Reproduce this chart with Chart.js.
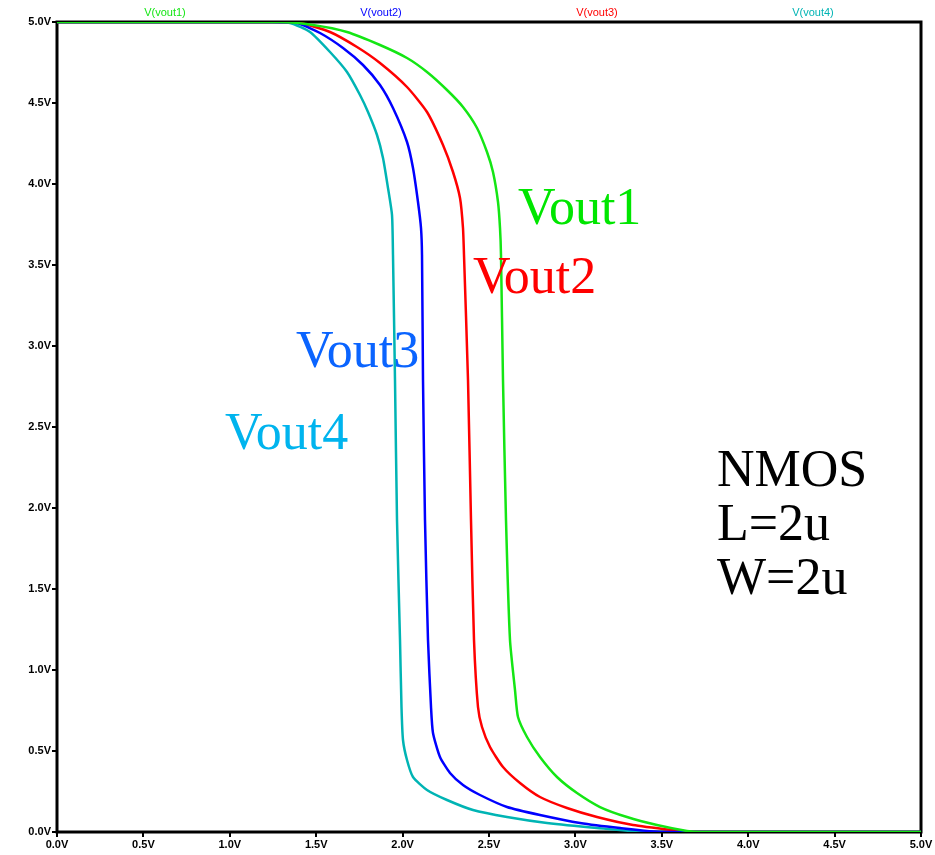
<!DOCTYPE html>
<html>
<head>
<meta charset="utf-8">
<script src="https://cdn.jsdelivr.net/npm/chart.js@4/dist/chart.umd.min.js"></script>
<style>
html,body{margin:0;padding:0;background:#fff;}
#wrap{width:935px;height:855px;position:relative;}
</style>
</head>
<body>
<div id="wrap"><canvas id="c" width="935" height="855"></canvas></div>
<script>
// Input voltage sweep (V) and output voltages (V)
const vout1X = [0, 1.2905, 1.4815, 1.6782, 1.8692, 2.0255, 2.1412, 2.2569, 2.3495, 2.4306, 2.4884, 2.5231, 2.5521, 2.5637, 2.5694, 2.5810, 2.5984, 2.6215, 2.6505, 2.6678, 2.7199, 2.7951, 2.8935, 3.0093, 3.1424, 3.2986, 3.4722, 3.6458, 3.7211, 5.0];
const vout1Y = [5, 5, 4.9815, 4.9383, 4.858, 4.7778, 4.6914, 4.5802, 4.4753, 4.3457, 4.1975, 4.0741, 3.8889, 3.7284, 3.5617, 2.7901, 1.9259, 1.1852, 0.8765, 0.7099, 0.5864, 0.4630, 0.3395, 0.2407, 0.1543, 0.0926, 0.0432, 0.0062, 0, 0];

const vout2X = [0, 1.2442, 1.3889, 1.5220, 1.6551, 1.7708, 1.8692, 1.9444, 2.0255, 2.0602, 2.0891, 2.1065, 2.1123, 2.1181, 2.1296, 2.1470, 2.1644, 2.1759, 2.2164, 2.2743, 2.3495, 2.4479, 2.6042, 2.7951, 3.0266, 3.2581, 3.5069, 5.0];
const vout2Y = [5, 5, 4.9938, 4.9321, 4.8395, 4.7346, 4.6111, 4.4691, 4.2593, 4.0988, 3.8889, 3.7284, 3.5617, 2.7901, 1.9259, 1.1852, 0.7716, 0.6111, 0.4630, 0.3642, 0.2901, 0.2284, 0.1543, 0.1049, 0.0556, 0.0247, 0, 0];

const vout3X = [0, 1.2616, 1.4063, 1.5799, 1.7361, 1.8692, 2.0255, 2.1412, 2.2338, 2.2917, 2.3322, 2.3495, 2.3553, 2.3785, 2.3958, 2.4132, 2.4363, 2.4595, 2.5058, 2.5810, 2.6794, 2.7951, 2.9514, 3.1250, 3.3333, 3.6053, 3.6632, 5.0];
const vout3Y = [5, 5, 4.9938, 4.9383, 4.8457, 4.7469, 4.5988, 4.4444, 4.2407, 4.0741, 3.9136, 3.7284, 3.5617, 2.7901, 1.9259, 1.1852, 0.7716, 0.6481, 0.5247, 0.4012, 0.3025, 0.2160, 0.1481, 0.0926, 0.0432, 0.0062, 0, 0];

const vout4X = [0, 1.2211, 1.3484, 1.4641, 1.5799, 1.6782, 1.7535, 1.7998, 1.8519, 1.8866, 1.9155, 1.9387, 1.9444, 1.9560, 1.9676, 1.9850, 1.9936, 2.0023, 2.0255, 2.0602, 2.1412, 2.2569, 2.4074, 2.6042, 2.8356, 3.1250, 3.4144, 5.0];
const vout4Y = [5, 5, 4.9938, 4.9383, 4.8148, 4.6914, 4.5494, 4.4444, 4.3025, 4.1605, 3.9753, 3.8086, 3.5617, 2.7901, 1.9259, 1.1852, 0.7716, 0.5679, 0.4444, 0.3395, 0.2593, 0.1975, 0.1358, 0.0926, 0.0556, 0.0247, 0, 0];

const seriesNames = ['V(vout1)', 'V(vout2)', 'V(vout3)', 'V(vout4)'];
const seriesColors = ['#14e614', '#0000ff', '#ff0000', '#00b4b4'];
const xTickLabels = ['0.0V','0.5V','1.0V','1.5V','2.0V','2.5V','3.0V','3.5V','4.0V','4.5V','5.0V'];
const yTickLabels = ['0.0V','0.5V','1.0V','1.5V','2.0V','2.5V','3.0V','3.5V','4.0V','4.5V','5.0V'];

const annotationTexts = ['Vout1', 'Vout2', 'Vout3', 'Vout4'];
const annotationColors = ['#00e600', '#ff0000', '#0a64ff', '#00b4ee'];
const annotationX = [2.668, 2.407, 1.383, 0.972];
const annotationY = [3.753, 3.327, 2.870, 2.364];
const noteLines = ['NMOS', 'L=2u', 'W=2u'];

function pts(xs, ys){ return xs.map((x,i)=>({x:x, y:ys[i]})); }
const allX = [vout1X, vout2X, vout3X, vout4X];
const allY = [vout1Y, vout2Y, vout3Y, vout4Y];

const tickFont = {family: '"Liberation Sans Narrow", "Liberation Sans", Arial, sans-serif', size: 11, weight: 'bold'};

const framePlugin = {
  id: 'frame',
  beforeDatasetsDraw(chart){
    const {ctx, chartArea: a} = chart;
    ctx.save();
    ctx.strokeStyle = '#000';
    ctx.lineWidth = 3;
    ctx.strokeRect(a.left, a.top, a.right - a.left, a.bottom - a.top);
    ctx.restore();
  },
  afterDatasetsDraw(chart){
    const {ctx, chartArea: a, scales} = chart;
    ctx.save();
    ctx.font = '11px "Liberation Sans Narrow", "Liberation Sans", Arial, sans-serif';
    ctx.textAlign = 'center';
    ctx.textBaseline = 'alphabetic';
    const w = a.right - a.left;
    seriesNames.forEach((n,i)=>{
      ctx.fillStyle = seriesColors[i];
      ctx.fillText(n, a.left + w*(i+0.5)/4, 16);
    });
    ctx.font = '52px "Liberation Serif", "Times New Roman", serif';
    ctx.textAlign = 'left';
    annotationTexts.forEach((t,i)=>{
      ctx.fillStyle = annotationColors[i];
      ctx.fillText(t, scales.x.getPixelForValue(annotationX[i]), scales.y.getPixelForValue(annotationY[i]));
    });
    ctx.fillStyle = '#000';
    ctx.font = '52px "Liberation Serif", "Times New Roman", serif';
    noteLines.forEach((t,i)=>{
      ctx.fillText(t, 717, 486 + i*54);
    });
    ctx.restore();
  }
};

new Chart(document.getElementById('c'), {
  type: 'line',
  data: {
    datasets: seriesNames.map((n,i)=>({
      label: n,
      data: pts(allX[i], allY[i]),
      borderColor: seriesColors[i],
      borderWidth: 2.5,
      pointRadius: 0,
      fill: false,
      tension: 0.2
    }))
  },
  options: {
    responsive: false,
    animation: false,
    layout: {padding: {top: 22, right: 14, left: 0, bottom: 0}},
    plugins: {legend: {display: false}, tooltip: {enabled: false}},
    scales: {
      x: {
        type: 'linear', min: 0, max: 5,
        afterFit(s){ s.height = 23; },
        border: {display: false},
        grid: {drawOnChartArea: false, drawTicks: true, tickLength: 5, color: '#000', lineWidth: 2},
        ticks: {stepSize: 0.5, color: '#000', font: tickFont, padding: 1, maxRotation: 0,
          callback: (v, i) => xTickLabels[i]}
      },
      y: {
        type: 'linear', min: 0, max: 5,
        afterFit(s){ s.width = 57; },
        border: {display: false},
        grid: {drawOnChartArea: false, drawTicks: true, tickLength: 5, color: '#000', lineWidth: 2},
        ticks: {stepSize: 0.5, color: '#000', font: tickFont, padding: 1,
          callback: (v, i) => yTickLabels[i]}
      }
    }
  },
  plugins: [framePlugin]
});
</script>
</body>
</html>
